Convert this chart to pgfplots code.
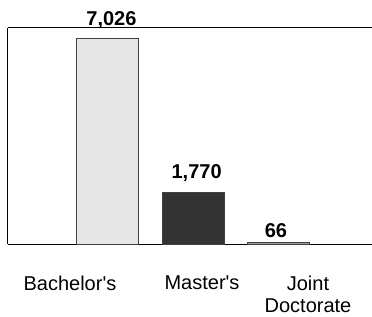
\documentclass[border=0pt]{standalone}
\usepackage{fontspec}
\setmainfont{Liberation Sans}
\usepackage{pgfplots}
\pgfplotsset{compat=1.18}
\definecolor{bachfill}{HTML}{E6E6E6}
\definecolor{mastfill}{HTML}{333333}
\definecolor{jointfill}{HTML}{999999}
\definecolor{edge}{HTML}{404040}
\begin{document}
\begin{tikzpicture}[x=1pt,y=1pt]
\useasboundingbox (0,0) rectangle (372,316);
\begin{axis}[
  at={(8pt,72pt)}, anchor=south west,
  width=364pt, height=216pt, scale only axis,
  xmin=-1.173, xmax=3.097, ymin=0, ymax=7403,
  axis x line*=box, axis y line*=left,
  axis line style={-, black, line width=1pt},
  x axis line style={-}, y axis line style={-},
  ytick=\empty,
  xtick={-0.446,1.103,2.346},
  xticklabels={Bachelor\textquotesingle s,Master\textquotesingle s,Joint\\Doctorate},
  major tick length=0pt,
  xticklabel style={align=center, font=\fontsize{20}{22}\selectfont, yshift=-28pt},
  clip=false,
]
\pgfplotstableread{
x y
0 7026
}\bach
\pgfplotstableread{
x y
1 1770
}\mast
\pgfplotstableread{
x y
2 66
}\joint
\addplot[ybar, bar width=62pt, bar shift=0pt, fill=bachfill, draw=edge, line width=1pt] table[x=x,y=y] {\bach};
\addplot[ybar, bar width=62pt, bar shift=0pt, fill=mastfill, draw=edge, line width=1pt] table[x=x,y=y] {\mast};
\addplot[ybar, bar width=62pt, bar shift=0pt, fill=jointfill, draw=edge, line width=1pt] table[x=x,y=y] {\joint};
\node[anchor=base, inner sep=0pt, font=\bfseries\fontsize{20}{22}\selectfont] at (axis cs:0.04,7472) {7,026};
\node[anchor=base, inner sep=0pt, font=\bfseries\fontsize{20}{22}\selectfont] at (axis cs:1.04,2228) {1,770};
\node[anchor=base, inner sep=0pt, font=\bfseries\fontsize{20}{22}\selectfont] at (axis cs:1.97,206) {66};
\end{axis}
\end{tikzpicture}
\end{document}
